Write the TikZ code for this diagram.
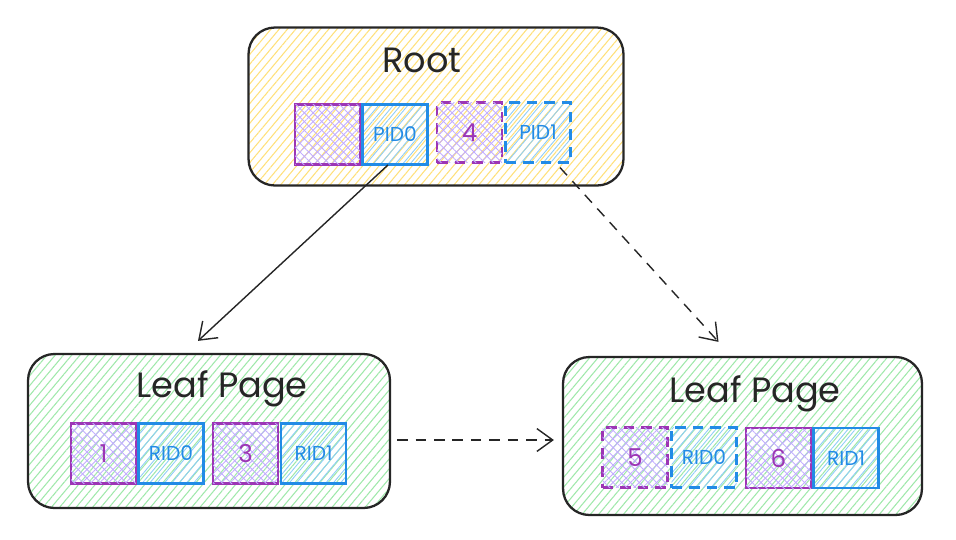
\documentclass[tikz,border=0pt]{standalone}
\usepackage{fontspec}
\setmainfont{Poppins}
\usetikzlibrary{arrows.meta,patterns.meta,calc}

\definecolor{rootfill}{HTML}{FFE07A}
\definecolor{leaffill}{HTML}{9FE8AA}
\definecolor{keyfill}{HTML}{C2ADFF}
\definecolor{keyline}{HTML}{9C36B5}
\definecolor{ptrfill}{HTML}{8ECDF7}
\definecolor{ptrline}{HTML}{228BE6}

\tikzset{
	page/.style={draw=black!85, line width=1.3pt, rounded corners=15pt, inner sep=0pt,
		fill=#1!22, pattern={Lines[angle=50,distance=3.6pt,line width=0.6pt]}, pattern color=#1},
	title/.style={font=\fontsize{20}{23}\selectfont, text=black!85},
	cell/.style={line width=1.2pt, minimum width=1.3cm, minimum height=1.2cm, inner sep=0pt},
	keycell/.style={cell, draw=keyline, text=keyline, fill=keyfill!35,
		pattern={Lines[angle=45,distance=3.5pt,line width=0.5pt]}, pattern color=keyfill,
		postaction={pattern={Lines[angle=-45,distance=3.5pt,line width=0.5pt]}, pattern color=keyfill},
		font=\fontsize{14}{16}\selectfont},
	ptrcell/.style={cell, draw=ptrline, text=ptrline, fill=ptrfill!30,
		pattern={Lines[angle=50,distance=3.2pt,line width=0.5pt]}, pattern color=ptrfill,
		font=\fontsize{11.5}{13}\selectfont},
	ghost/.style={dash pattern=on 6pt off 4pt},
	link/.style={line width=0.8pt, black!85, -{Straight Barb[length=9pt,width=13pt,line width=0.8pt]}},
}

\begin{document}
\begin{tikzpicture}[x=0.02cm, y=-0.02cm]
	\useasboundingbox (0,0) rectangle (956,539);
	% pages
	\node[page=rootfill, minimum width=7.5cm, minimum height=3.16cm] (root) at (436,106.5) {};
	\node[page=leaffill, minimum width=7.24cm, minimum height=3.08cm] (leafL) at (209,431) {};
	\node[page=leaffill, minimum width=7.18cm, minimum height=3.16cm] (leafR) at (742.5,436) {};
	\node[title] (rootlbl) at (422,60) {Root};
	\node[title] (leafLlbl) at (222,389) {Leaf Page};
	\node[title] (leafRlbl) at (755,394) {Leaf Page};
	% root entries
	\node[keycell] (k0) at (327.5,134.5) {};
	\node[ptrcell] (pid0) at (395,134.5) {PID0};
	\node[keycell, ghost] (k4) at (469.5,132.5) {4};
	\node[ptrcell, ghost] (pid1) at (538,132.5) {PID1};
	% left leaf entries
	\node[keycell] (k1) at (103.5,453.5) {1};
	\node[ptrcell] (ridL0) at (171,453.5) {RID0};
	\node[keycell] (k3) at (245.5,453.5) {3};
	\node[ptrcell] (ridL1) at (313.5,453.5) {RID1};
	% right leaf entries
	\node[keycell, ghost] (k5) at (635,457.5) {5};
	\node[ptrcell, ghost] (ridR0) at (704,457.5) {RID0};
	\node[keycell] (k6) at (778.5,458) {6};
	\node[ptrcell] (ridR1) at (846,458) {RID1};
	% links
	\draw[link] ($(pid0.south)+(-7,0)$) -- ($(leafL.north)+(-11,-12)$);
	\draw[link, dash pattern=on 6pt off 4.5pt] ($(pid1.south)+(22,4)$) -- ($(leafR.north)+(-24,-14)$);
	\draw[link, dash pattern=on 6pt off 4.5pt] ($(leafL.east)+(6,9)$) -- ($(leafR.west)+(-8,4)$);
\end{tikzpicture}
\end{document}
